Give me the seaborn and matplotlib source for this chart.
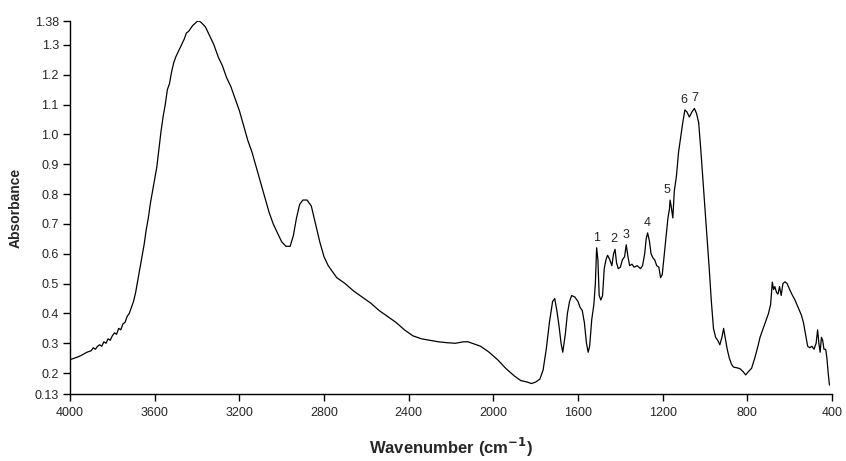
import numpy as np
import pandas as pd
import matplotlib
matplotlib.use("Agg")
import matplotlib.pyplot as plt
import seaborn as sns

# FT-IR spectrum, values
wavenumber = [
    4000, 3980, 3960, 3940, 3920, 3900, 3890, 3880, 3870, 3860, 3850, 3840, 3830, 3820,
    3810, 3800, 3790, 3780, 3770, 3760, 3750, 3740, 3730, 3720, 3710, 3700, 3690, 3680,
    3670, 3660, 3650, 3640, 3630, 3620, 3610, 3600, 3590, 3580, 3570, 3560, 3550, 3540,
    3530, 3520, 3510, 3500, 3480, 3460, 3450, 3440, 3420, 3400, 3390, 3380, 3360, 3340,
    3320, 3300, 3280, 3260, 3240, 3220, 3200, 3180, 3160, 3140, 3120, 3100, 3080, 3060,
    3040, 3020, 3000, 2980, 2960, 2945, 2930, 2915, 2900, 2880, 2860, 2840, 2820, 2800,
    2780, 2760, 2740, 2700, 2660, 2620, 2580, 2540, 2500, 2460, 2420, 2380, 2340, 2300,
    2260, 2220, 2180, 2140, 2120, 2100, 2060, 2020, 1980, 1940, 1900, 1870, 1840, 1820,
    1800, 1780, 1765, 1750, 1735, 1720, 1710, 1700, 1690, 1680, 1672, 1660, 1650, 1640,
    1630, 1615, 1600, 1590, 1580, 1570, 1560, 1552, 1545, 1535, 1525, 1518, 1512, 1506,
    1500, 1492, 1484, 1476, 1468, 1460, 1450, 1440, 1432, 1425, 1418, 1410, 1400, 1390,
    1380, 1372, 1364, 1356, 1345, 1335, 1320, 1305, 1295, 1285, 1278, 1271, 1262, 1255,
    1245, 1238, 1228, 1218, 1210, 1202, 1195, 1185, 1175, 1168, 1165, 1160, 1152, 1145,
    1135, 1125, 1115, 1105, 1095, 1085, 1074, 1062, 1050, 1040, 1030, 1020, 1010, 1000,
    990, 980, 970, 960, 950, 940, 930, 920, 912, 905, 895, 885, 875, 865,
    850, 835, 820, 808, 795, 780, 765, 750, 740, 720, 700, 690, 682, 676,
    670, 662, 655, 648, 640, 632, 622, 612, 600, 590, 575, 560, 545, 535,
    525, 515, 505, 495, 485, 475, 468, 462, 456, 450, 444, 438, 430, 424,
    418, 412,
]
absorbance = [
    0.245, 0.250, 0.255, 0.262, 0.270, 0.275, 0.285, 0.280, 0.290, 0.295, 0.290, 0.305, 0.300, 0.315,
    0.310, 0.325, 0.335, 0.330, 0.350, 0.345, 0.365, 0.370, 0.390, 0.400, 0.420, 0.440, 0.470, 0.510,
    0.550, 0.590, 0.630, 0.680, 0.720, 0.770, 0.810, 0.850, 0.890, 0.950, 1.010, 1.060, 1.100, 1.150,
    1.170, 1.210, 1.240, 1.260, 1.290, 1.320, 1.340, 1.345, 1.365, 1.378, 1.380, 1.375, 1.360, 1.330,
    1.300, 1.260, 1.230, 1.190, 1.160, 1.120, 1.080, 1.030, 0.980, 0.940, 0.890, 0.840, 0.790, 0.740,
    0.700, 0.670, 0.640, 0.625, 0.625, 0.660, 0.720, 0.765, 0.780, 0.780, 0.760, 0.700, 0.640, 0.590,
    0.560, 0.540, 0.520, 0.500, 0.475, 0.455, 0.435, 0.410, 0.390, 0.370, 0.345, 0.325, 0.315, 0.310,
    0.305, 0.302, 0.300, 0.305, 0.305, 0.300, 0.290, 0.270, 0.245, 0.215, 0.190, 0.175, 0.170, 0.165,
    0.170, 0.180, 0.210, 0.280, 0.370, 0.440, 0.450, 0.410, 0.360, 0.300, 0.270, 0.330, 0.400, 0.440,
    0.460, 0.455, 0.440, 0.420, 0.410, 0.370, 0.300, 0.270, 0.290, 0.380, 0.430, 0.500, 0.620, 0.580,
    0.460, 0.445, 0.460, 0.550, 0.580, 0.595, 0.580, 0.560, 0.600, 0.615, 0.570, 0.550, 0.555, 0.580,
    0.590, 0.630, 0.590, 0.560, 0.565, 0.555, 0.560, 0.550, 0.560, 0.600, 0.650, 0.670, 0.640, 0.600,
    0.585, 0.580, 0.560, 0.555, 0.520, 0.530, 0.580, 0.650, 0.720, 0.750, 0.780, 0.760, 0.720, 0.810,
    0.860, 0.940, 0.990, 1.040, 1.082, 1.075, 1.058, 1.075, 1.087, 1.070, 1.040, 0.950, 0.850, 0.750,
    0.650, 0.550, 0.440, 0.350, 0.320, 0.310, 0.295, 0.320, 0.350, 0.320, 0.280, 0.250, 0.230, 0.220,
    0.218, 0.215, 0.205, 0.194, 0.205, 0.216, 0.250, 0.290, 0.320, 0.360, 0.400, 0.430, 0.505, 0.480,
    0.490, 0.470, 0.465, 0.490, 0.460, 0.500, 0.506, 0.500, 0.480, 0.465, 0.445, 0.420, 0.395, 0.370,
    0.330, 0.290, 0.285, 0.290, 0.280, 0.300, 0.345, 0.300, 0.270, 0.320, 0.310, 0.280, 0.280, 0.250,
    0.200, 0.160,
]

# numbered peaks
peak_labels = ["1", "2", "3", "4", "5", "6", "7"]
peak_x = [1512, 1432, 1372, 1271, 1178, 1100, 1048]
peak_y = [0.620, 0.615, 0.630, 0.670, 0.780, 1.082, 1.087]

x_ticks = [4000, 3600, 3200, 2800, 2400, 2000, 1600, 1200, 800, 400]
y_ticks = [0.13, 0.2, 0.3, 0.4, 0.5, 0.6, 0.7, 0.8, 0.9, 1.0, 1.1, 1.2, 1.3, 1.38]
y_tick_labels = ["0.13", "0.2", "0.3", "0.4", "0.5", "0.6", "0.7", "0.8", "0.9",
                 "1.0", "1.1", "1.2", "1.3", "1.38"]

sns.set_style("ticks")
plt.rcParams['font.family'] = ['Liberation Sans', 'DejaVu Sans']

df = pd.DataFrame({'wavenumber': wavenumber, 'absorbance': absorbance})

fig = plt.figure(figsize=(8.46, 4.61), dpi=100)
ax = fig.add_axes([70 / 846, 1 - 394 / 461, 762 / 846, 373 / 461])

sns.lineplot(data=df, x='wavenumber', y='absorbance', ax=ax, color='black',
             linewidth=0.9, sort=False, estimator=None)

for lab, px, py in zip(peak_labels, peak_x, peak_y):
    ax.annotate(lab, (px, py), xytext=(0, 3), textcoords='offset points',
                ha='center', va='bottom', fontsize=9)

ax.set_xlim(4000, 400)
ax.set_ylim(0.13, 1.38)
ax.set_xticks(x_ticks)
ax.set_xticklabels([str(v) for v in x_ticks], fontsize=9)
ax.set_yticks(y_ticks)
ax.set_yticklabels(y_tick_labels, fontsize=9)
ax.tick_params(axis='both', direction='out', length=5, width=1, color='black')
ax.tick_params(axis='x', pad=4.5)
ax.tick_params(axis='y', pad=3)

for side in ['top', 'right']:
    ax.spines[side].set_visible(False)
for side in ['left', 'bottom']:
    ax.spines[side].set_color('black')
    ax.spines[side].set_linewidth(1)

ax.set_xlabel('Wavenumber (cm$^{\\mathbf{-1}}$)', fontsize=12, fontweight='bold', labelpad=12)
ax.set_ylabel('Absorbance', fontsize=10, fontweight='bold', labelpad=8.5)

fig.savefig('out.png', dpi=100)
